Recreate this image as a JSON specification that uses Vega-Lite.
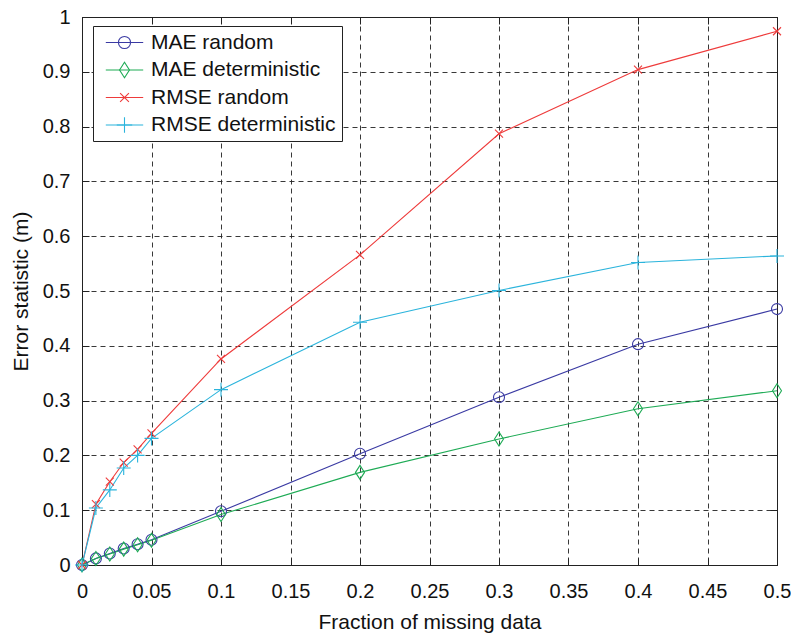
{
  "$schema": "https://vega.github.io/schema/vega-lite/v6.json",
  "autosize": "none",
  "width": 695,
  "height": 548,
  "padding": {"left": 82, "top": 17, "right": 14, "bottom": 70},
  "background": "white",
  "config": {
    "font": "Liberation Sans",
    "view": {"stroke": "#222", "strokeWidth": 1},
    "axis": {"labelFont": "Liberation Sans", "titleFont": "Liberation Sans", "labelColor": "#111", "titleColor": "#111", "labelFontSize": 20, "titleFontSize": 21, "titleFontWeight": "normal", "domainColor": "#222", "tickColor": "#222", "tickSize": -7, "labelOverlap": false, "labelFlush": false}
  },
  "data": {
    "values": [
      {"x": 0, "series": "MAE random", "value": 0},
      {"x": 0.01, "series": "MAE random", "value": 0.012},
      {"x": 0.02, "series": "MAE random", "value": 0.021},
      {"x": 0.03, "series": "MAE random", "value": 0.03},
      {"x": 0.04, "series": "MAE random", "value": 0.038},
      {"x": 0.05, "series": "MAE random", "value": 0.046},
      {"x": 0.1, "series": "MAE random", "value": 0.098},
      {"x": 0.2, "series": "MAE random", "value": 0.203},
      {"x": 0.3, "series": "MAE random", "value": 0.306},
      {"x": 0.4, "series": "MAE random", "value": 0.403},
      {"x": 0.5, "series": "MAE random", "value": 0.467},
      {"x": 0, "series": "MAE deterministic", "value": 0},
      {"x": 0.01, "series": "MAE deterministic", "value": 0.012},
      {"x": 0.02, "series": "MAE deterministic", "value": 0.02},
      {"x": 0.03, "series": "MAE deterministic", "value": 0.029},
      {"x": 0.04, "series": "MAE deterministic", "value": 0.037},
      {"x": 0.05, "series": "MAE deterministic", "value": 0.045},
      {"x": 0.1, "series": "MAE deterministic", "value": 0.092},
      {"x": 0.2, "series": "MAE deterministic", "value": 0.169},
      {"x": 0.3, "series": "MAE deterministic", "value": 0.23},
      {"x": 0.4, "series": "MAE deterministic", "value": 0.285},
      {"x": 0.5, "series": "MAE deterministic", "value": 0.318},
      {"x": 0, "series": "RMSE random", "value": 0},
      {"x": 0.01, "series": "RMSE random", "value": 0.111},
      {"x": 0.02, "series": "RMSE random", "value": 0.152},
      {"x": 0.03, "series": "RMSE random", "value": 0.187},
      {"x": 0.04, "series": "RMSE random", "value": 0.211},
      {"x": 0.05, "series": "RMSE random", "value": 0.24},
      {"x": 0.1, "series": "RMSE random", "value": 0.376},
      {"x": 0.2, "series": "RMSE random", "value": 0.566},
      {"x": 0.3, "series": "RMSE random", "value": 0.787},
      {"x": 0.4, "series": "RMSE random", "value": 0.904},
      {"x": 0.5, "series": "RMSE random", "value": 0.974},
      {"x": 0, "series": "RMSE deterministic", "value": 0},
      {"x": 0.01, "series": "RMSE deterministic", "value": 0.104},
      {"x": 0.02, "series": "RMSE deterministic", "value": 0.137},
      {"x": 0.03, "series": "RMSE deterministic", "value": 0.177},
      {"x": 0.04, "series": "RMSE deterministic", "value": 0.2},
      {"x": 0.05, "series": "RMSE deterministic", "value": 0.231},
      {"x": 0.1, "series": "RMSE deterministic", "value": 0.32},
      {"x": 0.2, "series": "RMSE deterministic", "value": 0.443},
      {"x": 0.3, "series": "RMSE deterministic", "value": 0.501},
      {"x": 0.4, "series": "RMSE deterministic", "value": 0.552},
      {"x": 0.5, "series": "RMSE deterministic", "value": 0.564}
    ]
  },
  "layer": [
    {
      "mark": {"type": "line", "strokeWidth": 1.1},
      "encoding": {
        "x": {"field": "x", "type": "quantitative", "scale": {"domain": [0, 0.5], "nice": false, "zero": true},
          "axis": {"orient": "bottom", "values": [0, 0.05, 0.1, 0.15, 0.2, 0.25, 0.3, 0.35, 0.4, 0.45, 0.5], "format": "~g", "grid": true, "gridDash": [5, 4], "gridColor": "#222", "gridOpacity": 0.9, "labelPadding": 23, "title": "Fraction of missing data", "titlePadding": 10}},
        "y": {"field": "value", "type": "quantitative", "scale": {"domain": [0, 1], "nice": false, "zero": true},
          "axis": {"orient": "left", "values": [0, 0.1, 0.2, 0.3, 0.4, 0.5, 0.6, 0.7, 0.8, 0.9, 1], "format": "~g", "grid": true, "gridDash": [5, 4], "gridColor": "#222", "gridOpacity": 0.9, "labelPadding": 19, "title": "Error statistic (m)", "titlePadding": 11}},
        "color": {"field": "series", "type": "nominal",
          "scale": {"domain": ["MAE random", "MAE deterministic", "RMSE random", "RMSE deterministic"], "range": ["#3a3aa3", "#1eab55", "#ee3b3b", "#2bb4dc"]},
          "legend": {"orient": "none", "legendX": 11, "legendY": 9, "title": null, "fillColor": "white", "strokeColor": "#222", "padding": 6, "rowPadding": 5.5, "labelFont": "Liberation Sans", "labelFontSize": 21, "labelColor": "#111", "labelLimit": 400, "labelOffset": 16, "symbolOffset": 15, "symbolSize": 121, "symbolStrokeWidth": 1.1, "symbolType": "M-3.4,0L3.4,0"}
        }
      }
    },
    {
      "mark": {"type": "point", "filled": false, "strokeWidth": 1.1, "opacity": 1, "size": 100},
      "encoding": {
        "x": {"field": "x", "type": "quantitative", "scale": {"domain": [0, 0.5], "nice": false, "zero": true},
          "axis": {"orient": "top", "values": [0, 0.05, 0.1, 0.15, 0.2, 0.25, 0.3, 0.35, 0.4, 0.45, 0.5], "labels": false, "grid": false, "domain": false, "title": null}},
        "y": {"field": "value", "type": "quantitative", "scale": {"domain": [0, 1], "nice": false, "zero": true},
          "axis": {"orient": "right", "values": [0, 0.1, 0.2, 0.3, 0.4, 0.5, 0.6, 0.7, 0.8, 0.9, 1], "labels": false, "grid": false, "domain": false, "title": null}},
        "color": {"field": "series", "type": "nominal",
          "scale": {"domain": ["MAE random", "MAE deterministic", "RMSE random", "RMSE deterministic"], "range": ["#3a3aa3", "#1eab55", "#ee3b3b", "#2bb4dc"]},
          "legend": {"orient": "none", "legendX": 11, "legendY": 9, "title": null, "padding": 6, "rowPadding": 5.5, "labelFont": "Liberation Sans", "labelFontSize": 21, "labelColor": "transparent", "labelLimit": 400, "labelOffset": 16, "symbolOffset": 15, "symbolSize": 121, "symbolStrokeWidth": 1.1}},
        "shape": {"field": "series", "type": "nominal",
          "scale": {"domain": ["MAE random", "MAE deterministic", "RMSE random", "RMSE deterministic"], "range": ["M1.1,0A1.1,1.1 0 1,1 -1.1,0A1.1,1.1 0 1,1 1.1,0", "M-0.9,0L0,-1.4L0.9,0L0,1.4Z", "M-0.8,-0.8L0.8,0.8M-0.8,0.8L0.8,-0.8", "M-1.4,0L1.4,0M0,-1.4L0,1.4"]},
          "legend": null}
      }
    }
  ],
  "resolve": {"axis": {"x": "independent", "y": "independent"}, "scale": {"color": "independent", "shape": "independent"}, "legend": {"color": "independent", "shape": "independent"}}
}
